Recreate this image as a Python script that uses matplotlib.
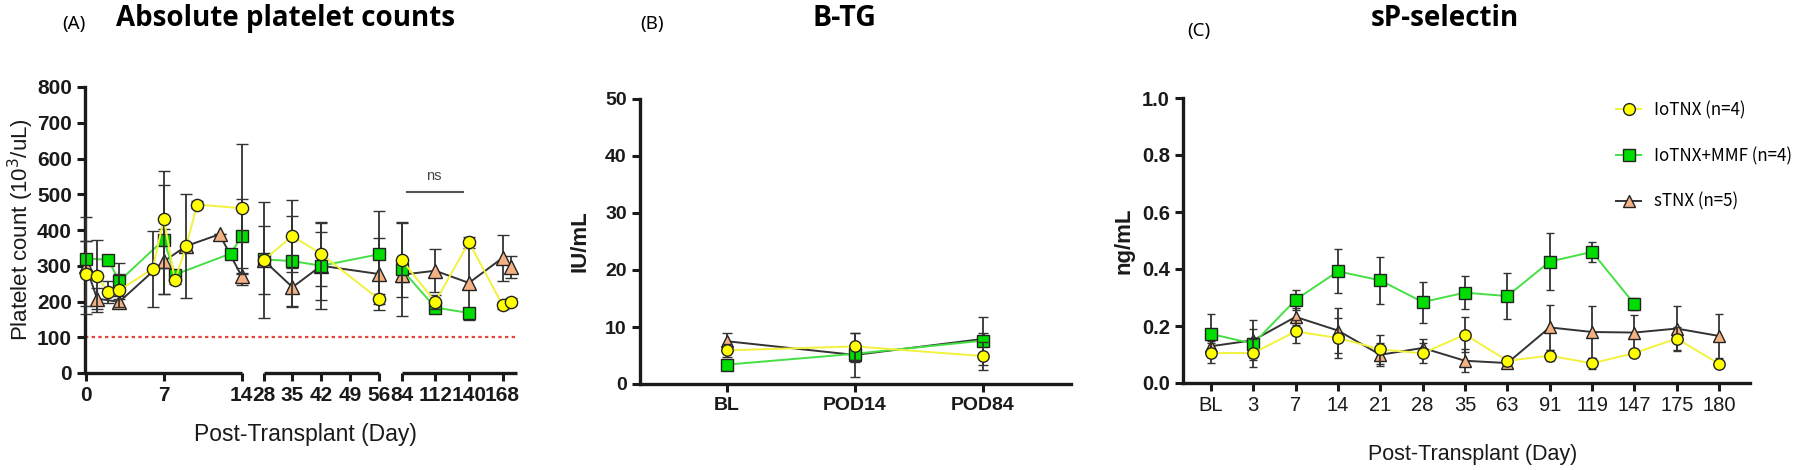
import numpy as np
import matplotlib.pyplot as plt
from matplotlib.lines import Line2D
from matplotlib.ticker import FixedLocator
from matplotlib import font_manager as fm

# ---- panel A: absolute platelet counts, x = post-transplant day ----
a_lo_days = [0, 1, 2, 3, 6, 7, 8, 9, 10, 14, 28, 35, 42, 56, 84, 112, 140, 168, 175]
a_lo_mean = [278, 271, 226, 231, 292, 430, 259, 355, 471, 461, 316, 383, 333, 207, 316, 199, 366, 190, 199]
a_lo_sd = [90, 100, 30, 45, 106, 135, 10, 145, 10, 180, 162, 100, 90, 15, 104, 20, 15, 10, 10]

a_mmf_days = [0, 2, 3, 7, 8, 13, 14, 28, 35, 42, 56, 84, 112, 140]
a_mmf_mean = [320, 317, 257, 373, 275, 334, 383, 318, 313, 300, 332, 290, 183, 168]
a_mmf_sd = [50, 0, 50, 152, 0, 0, 105, 15, 125, 120, 120, 131, 10, 15]

a_s_days = [0, 1, 3, 7, 9, 12, 14, 28, 35, 42, 56, 84, 112, 140, 168, 175]
a_s_mean = [300, 208, 199, 312, 355, 388, 270, 315, 240, 300, 277, 275, 286, 252, 322, 297]
a_s_sd = [135, 30, 15, 90, 0, 0, 25, 95, 55, 95, 100, 20, 60, 105, 65, 30]

a_ticks = [0, 7, 14, 28, 35, 42, 49, 56, 84, 112, 140, 168]
a_segments = [(0, 14), (28, 56), (84, 180)]
a_threshold = 100
ns_days = (88.8, 135)
ns_level = 507

# ---- panel B: B-TG ----
b_labels = ['BL', 'POD14', 'POD84']
b_lo_mean = [5.9, 6.6, 4.9]
b_lo_sd = [1.2, 2.4, 2.5]
b_mmf_mean = [3.4, 5.3, 7.6]
b_mmf_sd = [0.8, 1.5, 4.2]
b_s_mean = [7.5, 5.1, 7.9]
b_s_sd = [1.5, 3.8, 1.0]

# ---- panel C: sP-selectin ----
c_labels = ['BL', '3', '7', '14', '21', '28', '35', '63', '91', '119', '147', '175', '180']
c_lo_mean = [0.105, 0.105, 0.181, 0.158, 0.118, 0.104, 0.170, 0.078, 0.096, 0.069, 0.105, 0.156, 0.067]
c_lo_sd = [0.035, 0.05, 0.04, 0.07, 0.05, 0.035, 0.06, 0.01, 0.02, 0.02, 0.015, 0.04, 0.015]
c_mmf_mean = [0.172, 0.138, 0.292, 0.392, 0.360, 0.284, 0.317, 0.305, 0.426, 0.460, 0.277]
c_mmf_sd = [0.07, 0.05, 0.035, 0.077, 0.082, 0.072, 0.058, 0.08, 0.10, 0.034, 0.02]
c_s_mean = [0.129, 0.150, 0.232, 0.184, 0.099, 0.123, 0.078, 0.070, 0.195, 0.179, 0.177, 0.191, 0.165]
c_s_sd = [0.02, 0.07, 0.03, 0.08, 0.04, 0.03, 0.04, 0.01, 0.08, 0.09, 0.06, 0.08, 0.077]

group_names = ['IoTNX (n=4)', 'IoTNX+MMF (n=4)', 'sTNX (n=5)']

styles = {
    'lo': dict(line='#f2f23c', face='#ffff00', marker='o', z=5),
    'mmf': dict(line='#44e044', face='#00dd00', marker='s', z=4),
    's': dict(line='#333333', face='#f4b183', marker='^', z=3),
}


def has_bold(name):
    for f in fm.fontManager.ttflist:
        if f.name == name and str(f.weight) in ('bold', '700', '600', 'semibold', 'demibold'):
            return True
    return False


installed = {f.name for f in fm.fontManager.ttflist}
title_face = next((n for n in ['Noto Sans', 'Open Sans', 'Lato', 'Roboto'] if has_bold(n)), 'DejaVu Sans')
has_narrow = 'Liberation Sans Narrow' in installed
narrow_face = 'Liberation Sans Narrow' if has_narrow else 'Liberation Sans'

plt.rcParams['font.family'] = ['Liberation Sans', 'DejaVu Sans']
INK = '#1a1a1a'

fig = plt.figure(figsize=(18, 4.7), dpi=100)
W, H = 1800, 470


def px_axes(left, top, right, bottom):
    return fig.add_axes([left / W, 1 - bottom / H, (right - left) / W, (bottom - top) / H])


def series(ax, x, y, e, st, ms, cs):
    if st['marker'] == '^':
        ms = ms + 1
    ax.errorbar(x, y, yerr=e, color=st['line'], lw=1.4, ecolor='#333333', elinewidth=1.3,
                capsize=cs, capthick=1.3, marker=st['marker'], ms=ms, mfc=st['face'],
                mec='#222222', mew=1.0, clip_on=False, zorder=st['z'])


def style_axes(ax):
    for s in ['top', 'right']:
        ax.spines[s].set_visible(False)
    for s in ['left', 'bottom']:
        ax.spines[s].set_linewidth(2.4)
        ax.spines[s].set_color(INK)
    ax.tick_params(width=2.2, length=6, color=INK, labelcolor=INK)


# ================= panel A =================
axA = px_axes(85, 87, 517, 373)
style_axes(axA)

knot_days = np.array([-50, 0, 14, 28, 56, 84, 168, 400])
knot_pos = np.array([-556.1, 1, 157, 179, 294, 317, 418, 697])
axA.set_xscale('function', functions=(lambda d: np.interp(d, knot_days, knot_pos),
                                      lambda p: np.interp(p, knot_pos, knot_days)))
axA.set_xlim(-0.08, 180)
axA.set_ylim(0, 800)
axA.set_yticks(range(0, 801, 100))
axA.xaxis.set_major_locator(FixedLocator(a_ticks))
axA.set_xticklabels([str(t) for t in a_ticks])
axA.xaxis.set_minor_locator(FixedLocator([14, 28, 56, 84]))
axA.tick_params(axis='x', which='minor', direction='inout', length=14, width=2.2, color=INK)
axA.tick_params(labelsize=15)
for lab in axA.get_xticklabels() + axA.get_yticklabels():
    lab.set_fontweight('bold')
axA.spines['bottom'].set_visible(False)
for lo, hi in a_segments:
    axA.plot([lo, hi], [0, 0], transform=axA.get_xaxis_transform(), color=INK, lw=2.4,
             solid_capstyle='butt', clip_on=False)

axA.axhline(a_threshold, color='#e8443a', lw=1.6, ls=(0, (1.5, 1.5)), zorder=1)

for key, days, mean, sd in [('s', a_s_days, a_s_mean, a_s_sd),
                            ('mmf', a_mmf_days, a_mmf_mean, a_mmf_sd),
                            ('lo', a_lo_days, a_lo_mean, a_lo_sd)]:
    d = np.array(days)
    for lo, hi in a_segments:
        m = (d >= lo) & (d <= hi)
        series(axA, d[m], np.array(mean)[m], np.array(sd)[m], styles[key], 8.8, 4.3)

axA.plot(ns_days, [ns_level, ns_level], color='#555555', lw=1.5)
axA.text(np.mean(ns_days) - 1, ns_level + 25, 'ns', ha='center', va='bottom', fontsize=10.5,
         color='#444444')

axA.set_ylabel('Platelet count (10$^3$/uL)', fontsize=16, color=INK)
axA.yaxis.set_label_coords(-0.113, 0.5)
fig.text(305 / W, 1 - 441 / H, 'Post-Transplant (Day)', ha='center', va='baseline',
         fontsize=16.5, color=INK)

# ================= panel B =================
axB = px_axes(640, 99, 1071, 384)
style_axes(axB)
xb = np.arange(len(b_labels))
for key, mean, sd in [('s', b_s_mean, b_s_sd), ('mmf', b_mmf_mean, b_mmf_sd),
                      ('lo', b_lo_mean, b_lo_sd)]:
    series(axB, xb, mean, sd, styles[key], 8.2, 3.5)
axB.set_xlim(-0.68, 2.69)
axB.set_ylim(0, 50)
axB.set_yticks(range(0, 51, 10))
axB.set_xticks(xb)
axB.set_xticklabels(b_labels)
axB.tick_params(labelsize=14)
for lab in axB.get_xticklabels() + axB.get_yticklabels():
    lab.set_fontweight('bold')
axB.set_ylabel('IU/mL', fontsize=16, fontweight='bold', color=INK)
axB.yaxis.set_label_coords(-0.116, 0.5)

# ================= panel C =================
axC = px_axes(1183, 98, 1750, 383)
style_axes(axC)
xc = np.arange(len(c_labels))
series(axC, xc, c_s_mean, c_s_sd, styles['s'], 8.2, 3.2)
series(axC, xc[:len(c_mmf_mean)], c_mmf_mean, c_mmf_sd, styles['mmf'], 8.6, 3.2)
series(axC, xc, c_lo_mean, c_lo_sd, styles['lo'], 8.2, 3.2)
axC.set_xlim(-0.66, 12.73)
axC.set_ylim(0, 1.0)
axC.set_yticks(np.arange(0, 1.01, 0.2))
axC.set_yticklabels([f'{v:.1f}' for v in np.arange(0, 1.01, 0.2)])
axC.set_xticks(xc)
axC.set_xticklabels(c_labels)
axC.tick_params(labelsize=14.5)
for lab in axC.get_xticklabels() + axC.get_yticklabels():
    lab.set_family(narrow_face)
for lab in axC.get_yticklabels():
    lab.set_fontweight('bold')
axC.set_ylabel('ng/mL', fontsize=16, fontweight='bold', color=INK)
axC.yaxis.set_label_coords(-0.086, 0.5)
axC.set_xlabel('Post-Transplant (Day)', fontsize=15.5, family=narrow_face, color=INK)
axC.xaxis.set_label_coords(0.51, -0.215)

handles = []
for key in ['lo', 'mmf', 's']:
    st = styles[key]
    handles.append(Line2D([], [], color=st['line'], lw=1.4, marker=st['marker'], ms=8.5,
                          mfc=st['face'], mec='#222222', mew=1.0))
legend_font = {'family': [narrow_face, 'DejaVu Sans'], 'size': 14} if has_narrow else \
    {'family': ['Noto Sans CJK JP', 'DejaVu Sans'], 'size': 12.2}
axC.legend(handles, group_names, loc='upper left', bbox_to_anchor=(1616 / W, 1 - 101 / H),
           bbox_transform=fig.transFigure, frameon=False, borderpad=0, borderaxespad=0,
           handlelength=1.5, handletextpad=0.72, labelspacing=1.63, prop=legend_font)

# ================= titles =================
fig.text(74 / W, 1 - 29 / H, '(A)', ha='center', va='baseline', fontsize=13.5, family='Noto Sans')
fig.text(286 / W, 1 - 26 / H, 'Absolute platelet counts', ha='center', va='baseline',
         fontsize=20, fontweight='bold', family=title_face)
fig.text(652 / W, 1 - 29 / H, '(B)', ha='center', va='baseline', fontsize=13.5, family='Noto Sans')
fig.text(844 / W, 1 - 26 / H, 'B-TG', ha='center', va='baseline', fontsize=20.5,
         fontweight='bold', family=title_face)
fig.text(1199 / W, 1 - 36 / H, '(C)', ha='center', va='baseline', fontsize=13.5, family='Noto Sans')
fig.text(1445 / W, 1 - 26 / H, 'sP-selectin', ha='center', va='baseline', fontsize=20,
         fontweight='bold', family=title_face)

fig.savefig('out.png', dpi=100)
